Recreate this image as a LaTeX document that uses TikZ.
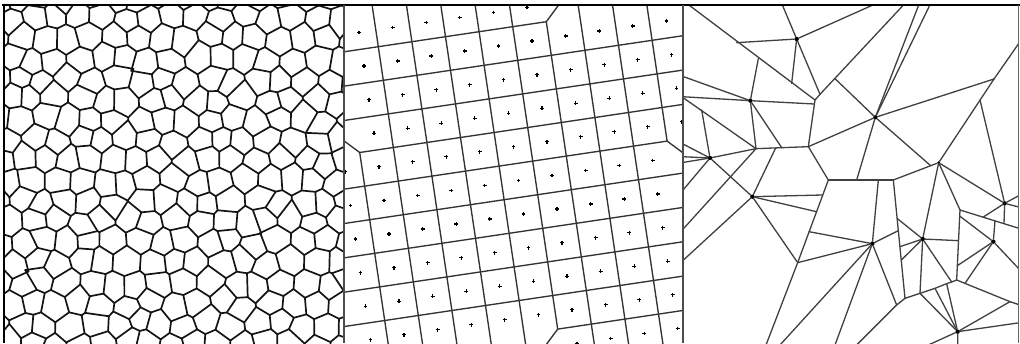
\documentclass[tikz,border=0pt]{standalone}
\usetikzlibrary{calc}
\tikzset{
  vor/.style={line width=1.7pt,black!92,line cap=round,line join=round},
  grd/.style={line width=1.35pt,black!80,line cap=round},
  crossmk/.style={line width=1.1pt,black},
  pthree/.style={line width=1.3pt,black!75,line cap=round},
  dotn/.style={circle,fill=black,inner sep=0pt,minimum size=4.4pt},
  dotk/.style={circle,fill=black,inner sep=0pt,minimum size=3pt}
}
\newcommand\vcirc[4]{%
  \pgfmathsetmacro\vAx{\csname VPX#1\endcsname}%
  \pgfmathsetmacro\vAy{\csname VPY#1\endcsname}%
  \pgfmathsetmacro\vBx{\csname VPX#2\endcsname-(\vAx)}%
  \pgfmathsetmacro\vBy{\csname VPY#2\endcsname-(\vAy)}%
  \pgfmathsetmacro\vCx{\csname VPX#3\endcsname-(\vAx)}%
  \pgfmathsetmacro\vCy{\csname VPY#3\endcsname-(\vAy)}%
  \pgfmathsetmacro\vDD{2*((\vBx)*(\vCy)-(\vBy)*(\vCx))}%
  \pgfmathsetmacro\vBB{(\vBx)*(\vBx)+(\vBy)*(\vBy)}%
  \pgfmathsetmacro\vCC{(\vCx)*(\vCx)+(\vCy)*(\vCy)}%
  \pgfmathsetmacro\vUx{\vAx+((\vCy)*(\vBB)-(\vBy)*(\vCC))/(\vDD)}%
  \pgfmathsetmacro\vUy{\vAy+((\vBx)*(\vCC)-(\vCx)*(\vBB))/(\vDD)}%
  \coordinate (#4) at ({-2+23.5*\vUx},{-2+23.5*\vUy});%
}
\begin{document}
\begin{tikzpicture}[x=1pt,y=-1pt]
\useasboundingbox (0,0) rectangle (1020,343);
\fill[white] (0,0) rectangle (1020,343);

% ---------------- panel 1 : random Voronoi ----------------
\pgfmathsetseed{31}
\foreach \j in {-1,...,19}{%
  \foreach \i in {-1,...,16}{%
    \pgfmathsetmacro\vrx{rnd}%
    \pgfmathsetmacro\vry{rnd}%
    \pgfmathsetmacro\vpx{\i+0.5*mod(\j+2,2)+0.5*(\vrx-0.5)}%
    \pgfmathsetmacro\vpy{0.866*\j+0.5*(\vry-0.5)}%
    \expandafter\xdef\csname VPX\i:\j\endcsname{\vpx}%
    \expandafter\xdef\csname VPY\i:\j\endcsname{\vpy}%
  }%
}
\foreach \j in {-1,...,18}{%
  \pgfmathtruncatemacro\jp{\j+1}%
  \foreach \i in {-1,...,15}{%
    \pgfmathtruncatemacro\ip{\i+1}%
    \ifodd\j\relax
      \vcirc{\i:\j}{\ip:\j}{\ip:\jp}{ta\i x\j}%
      \vcirc{\i:\j}{\i:\jp}{\ip:\jp}{tb\i x\j}%
    \else
      \vcirc{\i:\j}{\ip:\j}{\i:\jp}{ta\i x\j}%
      \vcirc{\ip:\j}{\i:\jp}{\ip:\jp}{tb\i x\j}%
    \fi
  }%
}
\begin{scope}
\clip (4,5) rectangle (344,343);
\foreach \j in {-1,...,18}{%
  \foreach \i in {-1,...,14}{%
    \pgfmathtruncatemacro\ip{\i+1}%
    \ifodd\j\relax
      \draw[vor] (tb\i x\j) -- (ta\i x\j) -- (tb\ip x\j);
    \else
      \draw[vor] (ta\i x\j) -- (tb\i x\j) -- (ta\ip x\j);
    \fi
  }%
}
\foreach \j in {0,...,18}{%
  \pgfmathtruncatemacro\jm{\j-1}%
  \foreach \i in {-1,...,15}{%
    \draw[vor] (ta\i x\j) -- (tb\i x\jm);
  }%
}
\end{scope}

% ---------------- panel 2 : rotated lattice ----------------
\foreach \a in {-4,...,11}{%
  \foreach \b in {-3,...,11}{%
    \coordinate (g\a y\b) at ({378.3+33.6*\a+5*\b},{46.7-5*\a+33.6*\b});
  }%
}
\begin{scope}
\clip (344,5) rectangle (683,343);
% vertical lines
\draw[grd] (g-1y3) -- (g-1y11);
\draw[grd] (g0y-3) -- (g0y11);
\draw[grd] (g1y-3) -- (g1y11);
\draw[grd] (g2y-3) -- (g2y11);
\draw[grd] (g3y-3) -- (g3y11);
\draw[grd] (g4y-3) -- (g4y9);
\draw[grd] (g5y0) -- (g5y11);
\draw[grd] (g6y-3) -- (g6y11);
\draw[grd] (g7y-3) -- (g7y11);
\draw[grd] (g8y-3) -- (g8y4);
% horizontal lines
\draw[grd] (g-4y0) -- (g5y0);
\draw[grd] (g-4y1) -- (g11y1);
\draw[grd] (g-4y2) -- (g11y2);
\draw[grd] (g-1y3) -- (g11y3);
\draw[grd] (g-4y4) -- (g8y4);
\draw[grd] (g-4y5) -- (g11y5);
\draw[grd] (g-4y6) -- (g11y6);
\draw[grd] (g-4y7) -- (g11y7);
\draw[grd] (g-4y8) -- (g11y8);
\draw[grd] (g4y9) -- (g11y9);
% boundary bends
\draw[grd] (g5y0) -- (g7y-2);
\draw[grd] (g-1y3) -- (g-3y1);
\draw[grd] (g8y4) -- (g10y6);
\draw[grd] (g4y9) -- (g2y11);
% site markers
\foreach \m/\ka/\kb in {-1/-1/4,0/-1/8,1/-1/8,2/-1/8,3/-2/8,4/-2/7,5/-2/7,6/-2/7,7/-2/7,8/-2/7,9/4/7}{%
  \foreach \k in {\ka,...,\kb}{%
    \coordinate (pm\k y\m) at ({397.6+33.6*\k+5*\m},{61-5*\k+33.6*\m});
    \draw[crossmk] (pm\k y\m) ++(-1.9,0) -- ++(3.8,0) ++(-1.9,-1.9) -- ++(0,3.8);
  }%
}
\end{scope}

% ---------------- panel 3 : sparse tessellation ----------------
\begin{scope}
\clip (683,5) rectangle (1018,343);
\begin{scope}[shift={(680,0)},scale=1/3]
\node[dotn] (A) at (350,117) {};
\node[dotn] (B) at (211,302) {};
\node[dotn] (C) at (90,474) {};
\node[dotn] (D) at (586,352) {};
\node[dotn] (E) at (217,590) {};
\node[dotn] (F) at (577,731) {};
\node[dotn] (G) at (728,717) {};
\node[dotn] (H) at (940,725) {};
\node[dotn] (I) at (974,610) {};
\node[dotn] (J) at (833,995) {};
\node[dotk] (K) at (776,488) {};
\coordinate (t1) at (20,10);
\coordinate (t2) at (305,10);
\coordinate (t3) at (590,10);
\coordinate (t4) at (675,10);
\coordinate (t5) at (718,10);
\coordinate (t6) at (752,10);
\coordinate (r1) at (1020,125);
\coordinate (q1) at (405,300);
\coordinate (q2) at (420,283);
\coordinate (q3) at (335,250);
\coordinate (q4) at (170,128);
\coordinate (q5) at (235,176);
\coordinate (q6) at (403,312);
\coordinate (l1) at (5,228);
\coordinate (l2) at (5,290);
\coordinate (l3) at (5,430);
\coordinate (l4) at (5,470);
\coordinate (l5) at (5,488);
\coordinate (l6) at (5,575);
\coordinate (l7) at (5,692);
\coordinate (l8) at (5,785);
\coordinate (m1) at (228,446);
\coordinate (m2) at (305,443);
\coordinate (m3) at (287,444);
\coordinate (m4) at (385,440);
\coordinate (m5) at (65,330);
\coordinate (n1) at (445,540);
\coordinate (n2) at (640,540);
\coordinate (n3) at (595,540);
\coordinate (n4) at (530,540);
\coordinate (n5) at (428,585);
\coordinate (n6) at (409,635);
\coordinate (n7) at (387,695);
\coordinate (o1) at (353,788);
\coordinate (o2) at (258,1035);
\coordinate (k1) at (752,497);
\coordinate (s1) at (942,237);
\coordinate (s2) at (900,300);
\coordinate (s3) at (465,236);
\coordinate (u1) at (840,630);
\coordinate (u2) at (830,840);
\coordinate (u3) at (910,651);
\coordinate (u4) at (972,670);
\coordinate (u5) at (945,662);
\coordinate (u6) at (839,648);
\coordinate (w1) at (1020,686);
\coordinate (w2) at (1020,810);
\coordinate (w3) at (1020,585);
\coordinate (w4) at (1020,622);
\coordinate (w5) at (1020,968);
\coordinate (v1) at (832,797);
\coordinate (v2) at (855,850);
\coordinate (g1) at (651,655);
\coordinate (g2) at (660,740);
\coordinate (g3) at (664,780);
\coordinate (g4) at (835,722);
\coordinate (f1) at (655,692);
\coordinate (c1) at (650,915);
\coordinate (c2) at (675,895);
\coordinate (c3) at (720,880);
\coordinate (c4) at (765,865);
\coordinate (c5) at (800,851);
\coordinate (c5b) at (815,846);
\coordinate (c6) at (990,905);
\coordinate (c7) at (1020,915);
\coordinate (b1) at (300,1035);
\coordinate (b2) at (465,1035);
\coordinate (b3) at (530,1035);
\coordinate (b4) at (745,1035);
\coordinate (b5) at (833,1035);
\draw[pthree] (t1) -- (q1);
\draw[pthree] (t2) -- (A);
\draw[pthree] (q4) -- (A);
\draw[pthree] (A) -- (t3);
\draw[pthree] (A) -- (q3);
\draw[pthree] (A) -- (q2);
\draw[pthree] (q2) -- (t4);
\draw[pthree] (q2) -- (q1);
\draw[pthree] (q1) -- (m4);
\draw[pthree] (B) -- (q6);
\draw[pthree] (l1) -- (B);
\draw[pthree] (l2) -- (B);
\draw[pthree] (q5) -- (B);
\draw[pthree] (B) -- (m1);
\draw[pthree] (B) -- (m2);
\draw[pthree] (l2) -- (m1);
\draw[pthree] (m5) -- (C);
\draw[pthree] (C) -- (m1);
\draw[pthree] (l3) -- (C);
\draw[pthree] (l4) -- (C);
\draw[pthree] (l5) -- (C);
\draw[pthree] (C) -- (l6);
\draw[pthree] (C) -- (E);
\draw[pthree] (m1) -- (l7);
\draw[pthree] (m1) -- (m4);
\draw[pthree] (m3) -- (E);
\draw[pthree] (E) -- (l8);
\draw[pthree] (E) -- (n5);
\draw[pthree] (E) -- (n6);
\draw[pthree] (E) -- (o1);
\draw[pthree] (m4) -- (n1);
\draw[pthree] (n1) -- (n2);
\draw[pthree] (n1) -- (o1);
\draw[pthree] (o1) -- (o2);
\draw[pthree] (n7) -- (F);
\draw[pthree] (o1) -- (F);
\draw[pthree] (D) -- (t5);
\draw[pthree] (D) -- (t6);
\draw[pthree] (D) -- (s1);
\draw[pthree] (D) -- (k1);
\draw[pthree] (D) -- (n4);
\draw[pthree] (D) -- (m4);
\draw[pthree] (D) -- (s3);
\draw[pthree] (s1) -- (r1);
\draw[pthree] (s1) -- (K);
\draw[pthree] (s2) -- (I);
\draw[pthree] (n3) -- (F);
\draw[pthree] (n2) -- (c2);
\draw[pthree] (n2) -- (K);
\draw[pthree] (K) -- (u1);
\draw[pthree] (K) -- (G);
\draw[pthree] (K) -- (I);
\draw[pthree] (G) -- (g1);
\draw[pthree] (G) -- (g2);
\draw[pthree] (G) -- (g3);
\draw[pthree] (G) -- (g4);
\draw[pthree] (G) -- (c3);
\draw[pthree] (G) -- (c5b);
\draw[pthree] (F) -- (f1);
\draw[pthree] (F) -- (b1);
\draw[pthree] (F) -- (b2);
\draw[pthree] (F) -- (c1);
\draw[pthree] (c1) -- (b3);
\draw[pthree] (c1) -- (c2) -- (c3) -- (c4) -- (c5) -- (c5b) -- (u2) -- (c6) -- (c7);
\draw[pthree] (J) -- (c3);
\draw[pthree] (J) -- (c4);
\draw[pthree] (J) -- (c5);
\draw[pthree] (J) -- (c6);
\draw[pthree] (J) -- (w5);
\draw[pthree] (J) -- (b4);
\draw[pthree] (J) -- (b5);
\draw[pthree] (u1) -- (u2);
\draw[pthree] (u1) -- (w1);
\draw[pthree] (I) -- (u3);
\draw[pthree] (I) -- (u4);
\draw[pthree] (I) -- (w3);
\draw[pthree] (I) -- (w4);
\draw[pthree] (H) -- (u5);
\draw[pthree] (H) -- (u6);
\draw[pthree] (H) -- (v1);
\draw[pthree] (H) -- (v2);
\draw[pthree] (H) -- (w2);
\end{scope}
\end{scope}

% ---------------- frames ----------------
\draw[line width=2.2pt,black] (2,5) -- (1020,5);
\draw[line width=2.2pt,black] (4.3,4) -- (4.3,343);
\draw[line width=1.1pt,black!70] (344,5) -- (344,343);
\draw[line width=1.3pt,black!70] (683,5) -- (683,343);
\draw[line width=0.9pt,black!60] (1018,5) -- (1018,343);
\end{tikzpicture}
\end{document}
